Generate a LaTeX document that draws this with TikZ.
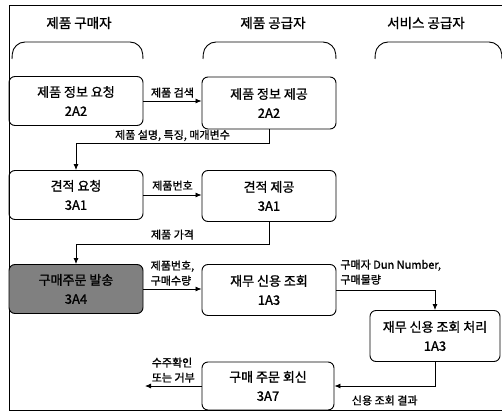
\documentclass[tikz,border=0pt]{standalone}
\usepackage{fontspec}
\setmainfont{Noto Sans CJK KR}[FakeBold=1.2]
\usetikzlibrary{arrows.meta,positioning}

\begin{document}
\begin{tikzpicture}[x=1pt,y=-1pt,
  font=\fontsize{13}{19}\selectfont,
  box/.style={draw,line width=0.9pt,rounded corners=6pt,align=center,
              inner sep=2pt,minimum width=134pt,minimum height=49pt},
  lane/.style={line width=0.9pt,rounded corners=12pt},
  lbl/.style={font=\fontsize{11}{15}\selectfont,align=left,inner sep=1pt},
  ar/.style={line width=0.8pt,-{Latex[length=6pt,width=5pt]}}]
\useasboundingbox (0,0) rectangle (502,417);
\draw[line width=0.8pt] (502,5) -- (9,5) -- (9,410) -- (502,410);
% lanes
\node[font=\fontsize{13.5}{16}\selectfont] (hb) at (79,23) {제품 구매자};
\node[font=\fontsize{13.5}{16}\selectfont] (hs) at (273,23) {제품 공급자};
\node[font=\fontsize{13.5}{16}\selectfont] (hv) at (426,23) {서비스 공급자};
\draw[lane] (12,59) -- (13,42) -- (142,42) -- (143,59);
\draw[lane] (203,59) -- (204,42) -- (335,42) -- (336,59);
\draw[lane] (375,59) -- (376,42) -- (501,42) -- (502,59);
% steps
\node[box] (rq) at (76,101) {제품 정보 요청\\2A2};
\node[box,minimum height=52pt] (pi) at (269,103) {제품 정보 제공\\2A2};
\node[box] (qr) at (76,195) {견적 요청\\3A1};
\node[box,minimum height=51pt] (qg) at (269,196) {견적 제공\\3A1};
\node[box,fill=black!50] (po) at (76,289) {구매주문 발송\\3A4};
\node[box,minimum height=51pt] (cc) at (269,290) {재무 신용 조회\\1A3};
\node[box,minimum width=130pt,minimum height=51pt] (cp) at (435,336) {재무 신용 조회 처리\\1A3};
\node[box,minimum width=132pt,minimum height=48pt] (cr) at (268,386) {구매 주문 회신\\3A7};
\coordinate (out) at (145,386);
% flows
\draw[ar] (rq) -- (rq -| pi.west) node[lbl,midway,above=2pt] {제품 검색};
\draw[ar] (pi.south) -- ++(0,14) -| (qr.north)
  node[lbl,pos=0.25,above=1pt] {제품 설명, 특징, 매개변수};
\draw[ar] (qr) -- (qr -| qg.west) node[lbl,midway,above=3pt] {제품번호};
\draw[ar] (qg.south) -- ++(0,22) -| (po.north)
  node[lbl,pos=0.25,above=3pt] {제품 가격};
\draw[ar] (po) -- (po -| cc.west) node[lbl,midway,above=2pt] {제품번호,\\구매수량};
\draw[ar] (cc.east) -| (cp.north)
  node[lbl,pos=0.25,above=4pt,xshift=5pt] {구매자 Dun Number,\\구매물량};
\draw[ar] (cp.south) |- (cr.east) node[lbl,pos=0.75,below=8pt] {신용 조회 결과};
\draw[ar] (cr) -- (out) node[lbl,midway,above=2pt] {수주확인\\또는 거부};
\end{tikzpicture}
\end{document}
